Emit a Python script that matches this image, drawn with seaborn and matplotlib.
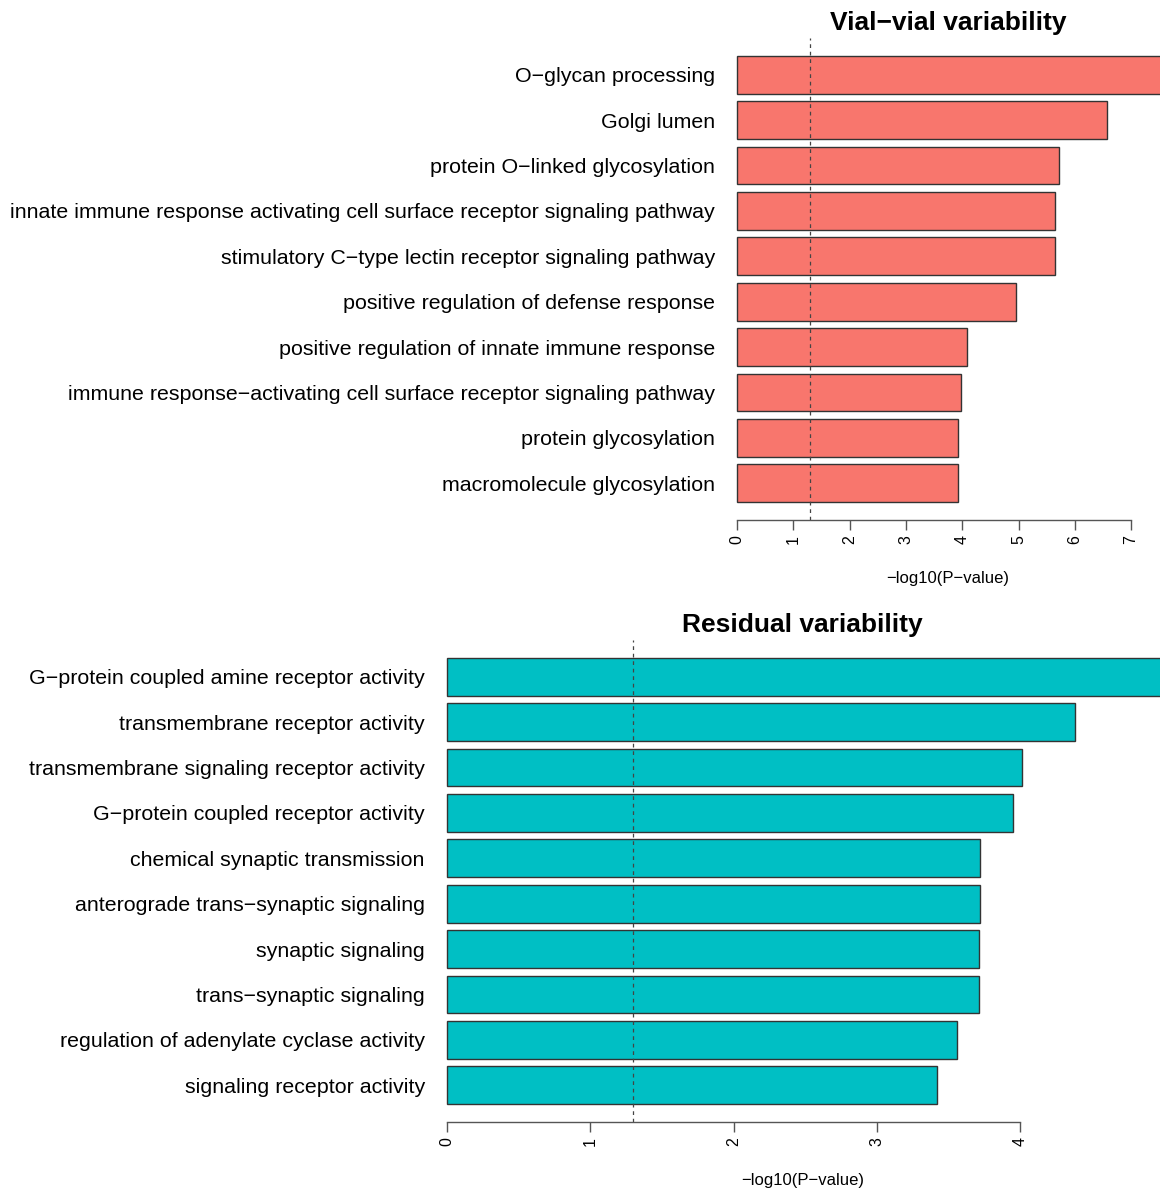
import matplotlib
matplotlib.use("Agg")
import matplotlib.pyplot as plt
import seaborn as sns
import pandas as pd
import numpy as np

sns.set_style("white")
plt.rcParams['font.family'] = ['Liberation Sans', 'DejaVu Sans']
plt.rcParams['text.color'] = 'black'
plt.rcParams['xtick.color'] = 'black'
plt.rcParams['ytick.color'] = 'black'
plt.rcParams['axes.labelcolor'] = 'black'

# datos
vial_terms = [
    "O\u2212glycan processing",
    "Golgi lumen",
    "protein O\u2212linked glycosylation",
    "innate immune response activating cell surface receptor signaling pathway",
    "stimulatory C\u2212type lectin receptor signaling pathway",
    "positive regulation of defense response",
    "positive regulation of innate immune response",
    "immune response\u2212activating cell surface receptor signaling pathway",
    "protein glycosylation",
    "macromolecule glycosylation",
]
vial_values = [7.8, 6.57, 5.72, 5.65, 5.65, 4.96, 4.09, 3.98, 3.93, 3.93]

resid_terms = [
    "G\u2212protein coupled amine receptor activity",
    "transmembrane receptor activity",
    "transmembrane signaling receptor activity",
    "G\u2212protein coupled receptor activity",
    "chemical synaptic transmission",
    "anterograde trans\u2212synaptic signaling",
    "synaptic signaling",
    "trans\u2212synaptic signaling",
    "regulation of adenylate cyclase activity",
    "signaling receptor activity",
]
resid_values = [5.1, 4.38, 4.01, 3.95, 3.72, 3.72, 3.71, 3.71, 3.56, 3.42]

W, H = 1160, 1193
fig = plt.figure(figsize=(W / 100, H / 100), dpi=100)


def panel(terms, values, color, title, left_px, zero_px, unit_px, top_px, max_tick, center):
    bottom_px = top_px + 482
    ax = fig.add_axes([left_px / W, 1 - bottom_px / H, (W - left_px) / W, 482 / H])
    df = pd.DataFrame({"term": terms, "val": values})
    sns.barplot(data=df, x="val", y="term", orient="h", color=color,
                saturation=1, width=0.833, edgecolor="#333333", linewidth=1.0, ax=ax)
    ax.set_xlim(-(zero_px - left_px) / unit_px, (W - zero_px) / unit_px)
    ax.set_ylim(9.81, -0.81)
    # umbral p = 0.05
    ax.axvline(-np.log10(0.05), color="#444444", ls=(0, (3, 3)), lw=0.9)
    for s in ["top", "right", "left"]:
        ax.spines[s].set_visible(False)
    ax.spines["bottom"].set_bounds(0, max_tick)
    ax.spines["bottom"].set_color("#555555")
    ax.spines["bottom"].set_linewidth(1.0)
    ax.set_xticks(range(0, max_tick + 1))
    ax.tick_params(axis="x", bottom=True, length=7, width=1.0, color="#555555",
                   labelsize=11.5, labelrotation=90, pad=4)
    ax.tick_params(axis="y", left=False, labelsize=15.4, pad=0.2)
    ax.set_ylabel("")
    ax.set_xlabel("\u2212log10(P\u2212value)", fontsize=12)
    cx = (zero_px + center * unit_px - left_px) / (W - left_px)
    ax.xaxis.set_label_coords(cx, -0.106)
    ax.set_title(title, fontsize=19, fontweight="bold", pad=6)
    ax.title.set_position((cx, 1.0))
    return ax


panel(vial_terms, vial_values, "#F8766D", "Vial\u2212vial variability", 720, 737, 56.3, 38, 7, 3.75)
panel(resid_terms, resid_values, "#00BFC4", "Residual variability", 430, 447, 143.3, 640, 4, 2.48)

fig.savefig("out.png", dpi=100)
